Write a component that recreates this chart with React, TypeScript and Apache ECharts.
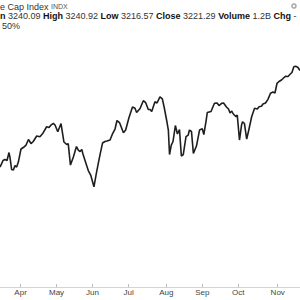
import React, { useEffect, useRef } from "react";
import * as echarts from "echarts";

const monthNames = ["Apr", "May", "Jun", "Jul", "Aug", "Sep", "Oct", "Nov"];
const monthStartDays = [12, 33, 54, 75, 97, 118, 139, 162];

const days = [
  0, 1.75, 2.9, 4.1, 5.25, 5.8, 6.8, 7.8, 8.75, 9.7, 10.7, 12.25, 13.6, 15.2, 16.6, 18.1, 19.4, 21.4, 23.3, 24.9,
  27.2, 28.6, 29.75, 31.1, 32.1, 33.7, 35.6, 37.3, 38.9, 39.8, 41.1, 42.8, 44.6, 45.7, 46.7, 47.7, 48.4, 49.6, 51.5, 52.9,
  54.8, 56.2, 57.3, 58.3, 59.8, 61.25, 62.4, 64.2, 65.7, 67.1, 68.25, 69.7, 72, 73.3, 75.25, 77.3, 78.75, 79.7, 81.7, 83.6,
  85, 86.5, 87.5, 88.5, 90.4, 91.6, 93.3, 94.7, 95.8, 97.4, 98.2, 98.9, 99.9, 100.9, 102.3, 103.5, 104.7, 105.8, 106.9, 108.5,
  109.8, 110.5, 111.7, 112.8, 114.6, 116.4, 118, 118.9, 120.2, 120.9, 123.1, 125.1, 126.6, 127.75, 129.3, 130.4, 132.1, 133.3, 134.2, 135.2,
  136.1, 137.7, 138.4, 139.7, 140.9, 141.5, 142.6, 143.9, 145, 146.8, 148.5, 150.1, 151.1, 152.5, 153.4, 154.9, 156.3, 157.8, 159.25, 160.4,
  161.6, 162.75, 164.2, 165.4, 166.5, 168, 169.5, 170.3, 171.4, 172.4, 173.7, 175,
];

const closes = [
  2803.8, 2824.3, 2827.5, 2824.3, 2849.6, 2835.4, 2795.9, 2794.3, 2808.5, 2803.8, 2819.6, 2860.7, 2865.4, 2873.3, 2890.7, 2878.0, 2884.4, 2901.7, 2899.6, 2909.6,
  2931.1, 2928.6, 2936.5, 2941.9, 2936.5, 2915.3, 2941.2, 2882.8, 2874.9, 2878.0, 2810.1, 2835.4, 2868.6, 2857.5, 2852.8, 2859.1, 2844.9, 2824.3, 2792.7, 2778.5,
  2741.5, 2783.9, 2814.8, 2841.7, 2879.6, 2884.4, 2885.9, 2889.1, 2909.6, 2923.9, 2950.7, 2944.4, 2912.2, 2920.7, 2960.2, 2993.4, 2989.3, 2976.0, 2988.6, 3013.3,
  3007.0, 2985.5, 2985.5, 2979.2, 3010.1, 3006.0, 3025.6, 3019.3, 2991.8, 2946.0, 2920.7, 2843.3, 2873.3, 2883.7, 2934.9, 2908.1, 2922.3, 2838.5, 2843.3, 2899.6,
  2904.9, 2920.7, 2916.0, 2847.1, 2870.1, 2920.7, 2924.5, 2906.5, 2949.1, 2976.0, 2979.2, 3005.1, 3006.0, 2998.1, 3005.1, 3006.0, 2993.4, 2987.1, 2974.4, 2980.7,
  2971.3, 2962.7, 2968.1, 2889.1, 2936.5, 2946.9, 2941.2, 2892.3, 2917.5, 2962.7, 2989.3, 2987.1, 2994.3, 2995.6, 3002.9, 3006.0, 3017.7, 3036.7, 3040.8, 3037.6,
  3068.3, 3074.0, 3078.7, 3085.0, 3090.4, 3089.8, 3098.3, 3102.4, 3120.7, 3122.0, 3118.8, 3108.7,
];

// visible (cropped) header texts as they appear in the reference
const titleText = "e Cap Index";
const symbolText = "INDX";
const quoteLabels = ["n", "High", "Low", "Close", "Volume", "Chg"];
const quoteValues = ["3240.09", "3240.92", "3216.57", "3221.29", "1.2B", "-"];
const changePct = "50%";

export default function App() {
  const ref = useRef<HTMLDivElement>(null);
  useEffect(() => {
    if (!ref.current) return;
    const chart = echarts.init(ref.current, null, { renderer: "svg" });
    const points = days.map((d, i) => [d, closes[i]]);
    const rich: any = {
      b: { fontFamily: "Liberation Sans", fontSize: 9, fontWeight: "bold", fill: "#111" },
      r: { fontFamily: "Liberation Sans", fontSize: 9, fill: "#333" },
    };
    const quoteStr = quoteLabels.map((l, i) => `{b|${l}} {r|${quoteValues[i]}}`).join(" ");
    chart.setOption({
      animation: false,
      backgroundColor: "#ffffff",
      grid: { left: 0, right: 0, top: 40, bottom: 13, outerBoundsMode: "none", containLabel: false },
      xAxis: {
        type: "value",
        min: 0,
        max: 175,
        splitLine: { show: false },
        axisLine: { show: true, lineStyle: { color: "#d4d4d4", width: 1 } },
        axisTick: {
          show: true,
          inside: true,
          length: 3,
          customValues: monthStartDays,
          lineStyle: { color: "#bbbbbb" },
        },
        axisLabel: {
          show: true,
          customValues: monthStartDays,
          formatter: (v: number) => {
            const i = monthStartDays.indexOf(Math.round(v));
            return i >= 0 ? monthNames[i] : "";
          },
          fontFamily: "Liberation Sans",
          fontSize: 8,
          color: "#444",
          margin: 1,
        },
      },
      yAxis: {
        type: "value",
        min: 2425,
        max: 3205,
        show: false,
        splitLine: { show: false },
      },
      series: [
        {
          type: "line",
          data: points,
          symbol: "none",
          lineStyle: { color: "#1e1e1e", width: 1.6 },
          z: 3,
        },
      ],
      graphic: [
        {
          type: "text",
          x: 0,
          y: 6.5,
          style: {
            text: titleText,
            align: "left",
            verticalAlign: "middle",
            fontFamily: "Liberation Sans",
            fontSize: 9,
            fill: "#333",
          },
        },
        {
          type: "text",
          x: 51,
          y: 6.5,
          style: {
            text: symbolText,
            align: "left",
            verticalAlign: "middle",
            fontFamily: "Liberation Sans",
            fontSize: 7,
            fill: "#555",
          },
        },
        {
          type: "text",
          x: 0,
          y: 15.5,
          style: {
            text: quoteStr,
            rich,
            align: "left",
            verticalAlign: "middle",
            fontFamily: "Liberation Sans",
            fontSize: 9,
          },
        },
        {
          type: "text",
          x: 2,
          y: 25.5,
          style: {
            text: changePct,
            align: "left",
            verticalAlign: "middle",
            fontFamily: "Liberation Sans",
            fontSize: 9,
            fill: "#333",
          },
        },
        {
          type: "ring",
          shape: { cx: 294, cy: 6, r: 2.8, r0: 1.2 },
          style: { fill: "#aaaaaa" },
        },
      ],
    });
    return () => chart.dispose();
  }, []);
  return <div ref={ref} style={{ width: 300, height: 300, position: "absolute", left: 0, top: 0 }} />;
}
